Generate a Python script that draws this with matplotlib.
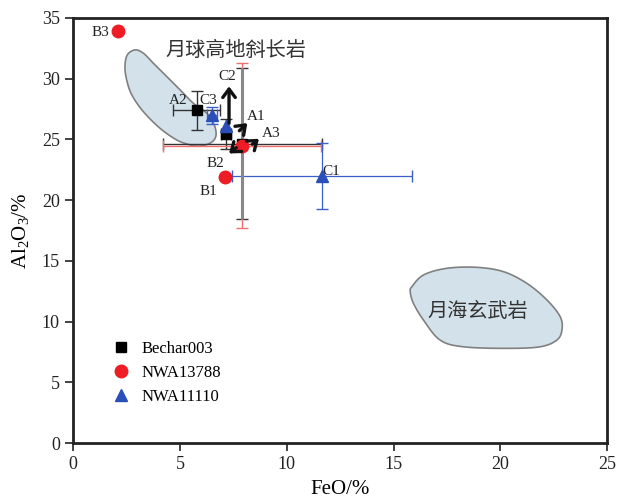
import numpy as np
import matplotlib
matplotlib.use('Agg')
import matplotlib.pyplot as plt
from matplotlib.patches import Polygon

plt.rcParams['font.family'] = ['Liberation Serif', 'Noto Sans CJK SC']
plt.rcParams['mathtext.fontset'] = 'custom'
plt.rcParams['mathtext.rm'] = 'Liberation Serif'
plt.rcParams['mathtext.it'] = 'Liberation Serif:italic'

# 数据 (FeO, Al2O3)
bechar_labels = ['A1', 'A2', 'A3']
bechar_feo = [7.16, 5.8, 7.93]
bechar_al = [25.45, 27.4, 24.65]
bechar_xerr = [0.25, 1.1, 3.7]
bechar_yerr = [1.25, 1.6, 6.2]

nwa13788_labels = ['B1', 'B2', 'B3']
nwa13788_feo = [7.1, 7.9, 2.1]
nwa13788_al = [21.9, 24.5, 33.9]
nwa13788_xerr = [0, 3.7, 0]
nwa13788_yerr = [0, 6.8, 0]

nwa11110_labels = ['C1', 'C2', 'C3']
nwa11110_feo = [11.66, 7.15, 6.5]
nwa11110_al = [22.0, 26.1, 27.0]
nwa11110_xerr = [4.2, 0, 0.25]
nwa11110_yerr = [2.7, 0, 0.7]

# 区域轮廓
highland_x = [2.90, 3.29, 3.76, 4.39, 5.01, 5.63, 6.26, 6.57, 6.69, 6.65, 6.41, 5.95, 5.48, 4.85,
              4.07, 3.29, 2.75, 2.51, 2.43, 2.54]
highland_y = [32.37, 32.10, 31.27, 30.17, 29.08, 27.98, 27.16, 26.33, 25.65, 25.10, 24.69, 24.46,
              24.55, 24.96, 25.92, 27.29, 28.67, 29.90, 31.00, 31.96]
mare_x = [15.86, 16.40, 17.49, 18.90, 20.15, 21.24, 22.18, 22.80, 22.88, 22.64, 21.86, 20.30, 18.27,
          17.18, 16.40, 15.93, 15.78]
mare_y = [12.88, 13.84, 14.39, 14.47, 14.11, 13.15, 11.78, 10.40, 9.31, 8.48, 7.93, 7.80, 7.93,
          8.48, 10.13, 11.51, 12.47]

# 箭头 (起点, 终点)
arrows = [((7.3, 26.1), (7.3, 29.6)),
          ((7.69, 25.56), (8.25, 26.5)),
          ((8.29, 24.46), (8.8, 25.2)),
          ((7.74, 24.46), (7.2, 23.7))]


def smooth_closed(xs, ys, n=12):
    # Catmull-Rom 平滑闭合曲线
    pts = np.column_stack([xs, ys])
    m = len(pts)
    out = []
    for i in range(m):
        p0, p1, p2, p3 = pts[i - 1], pts[i], pts[(i + 1) % m], pts[(i + 2) % m]
        for t in np.linspace(0, 1, n, endpoint=False):
            t2, t3 = t * t, t * t * t
            out.append(0.5 * (2 * p1 + (-p0 + p2) * t + (2 * p0 - 5 * p1 + 4 * p2 - p3) * t2
                              + (-p0 + 3 * p1 - 3 * p2 + p3) * t3))
    return np.array(out)


fig = plt.figure(figsize=(6.19, 4.99), dpi=100)
ax = fig.add_axes([0.118, 0.112, 0.863, 0.852])

for xs, ys in [(highland_x, highland_y), (mare_x, mare_y)]:
    ax.add_patch(Polygon(smooth_closed(xs, ys), closed=True, facecolor='#d3e2ea',
                         edgecolor='#808080', lw=1.2, zorder=1))

ax.text(7.6, 32.3, '月球高地斜长岩', fontsize=14.5, family=['Noto Sans CJK SC'],
        ha='center', va='center', color='#333333')
ax.text(18.96, 10.85, '月海玄武岩', fontsize=14.5, family=['Noto Sans CJK SC'],
        ha='center', va='center', color='#333333')

# 误差棒
for i in range(3):
    if bechar_xerr[i] or bechar_yerr[i]:
        ax.errorbar(bechar_feo[i], bechar_al[i], xerr=bechar_xerr[i], yerr=bechar_yerr[i],
                    fmt='none', ecolor='#333333', elinewidth=1, capsize=4, zorder=2)
for i in range(3):
    if nwa13788_xerr[i] or nwa13788_yerr[i]:
        ax.errorbar(nwa13788_feo[i], nwa13788_al[i], xerr=nwa13788_xerr[i], yerr=nwa13788_yerr[i],
                    fmt='none', ecolor='#f07070', elinewidth=1, capsize=4, zorder=2)
for i in range(3):
    if nwa11110_xerr[i] or nwa11110_yerr[i]:
        ax.errorbar(nwa11110_feo[i], nwa11110_al[i], xerr=nwa11110_xerr[i], yerr=nwa11110_yerr[i],
                    fmt='none', ecolor='#3a5fc8', elinewidth=0.9, capsize=4, zorder=2)
# A3 竖向误差棒(灰色粗线)
ax.errorbar(bechar_feo[2], bechar_al[2], yerr=bechar_yerr[2], fmt='none',
            ecolor='#888888', elinewidth=2.2, capsize=0, zorder=2)

ax.plot(bechar_feo, bechar_al, 's', color='black', ms=7, ls='none', label='Bechar003', zorder=4)
ax.plot(nwa13788_feo, nwa13788_al, 'o', color='#ee1c24', ms=9, ls='none', label='NWA13788', zorder=5)
ax.plot(nwa11110_feo, nwa11110_al, '^', color='#2a4fb8', ms=9, ls='none', label='NWA11110', zorder=4)

for start, end in arrows:
    ax.annotate('', xy=end, xytext=start,
                arrowprops=dict(arrowstyle='->,head_length=0.6,head_width=0.45', color='#111111', lw=2.4),
                zorder=6)

# 点标签
label_pos = {'A1': (8.55, 26.85), 'A2': (4.92, 28.2), 'A3': (9.25, 25.45),
             'B1': (6.32, 20.7), 'B2': (6.65, 23.06), 'B3': (1.26, 33.8),
             'C1': (12.1, 22.4), 'C2': (7.2, 30.15), 'C3': (6.35, 28.2)}
for name, (lx, ly) in label_pos.items():
    ax.text(lx, ly, name, fontsize=11, ha='center', va='center', color='#222222', zorder=7)

ax.set_xlim(0, 25)
ax.set_ylim(0, 35)
ax.set_xticks([0, 5, 10, 15, 20, 25])
ax.set_yticks(range(0, 36, 5))
ax.tick_params(direction='out', length=6, width=1.2, labelsize=13, colors='#222222')
for s in ax.spines.values():
    s.set_linewidth(2)
    s.set_color('#222222')
ax.set_xlabel('FeO/%', fontsize=15, labelpad=5)
ax.set_ylabel('Al$_2$O$_3$/%', fontsize=15, labelpad=8)

ax.legend(loc='lower left', bbox_to_anchor=(0.035, 0.05), frameon=False, fontsize=12,
          handletextpad=0.5, labelspacing=0.5, borderpad=0.5, handlelength=1.5)

fig.savefig('out.png', dpi=100)
